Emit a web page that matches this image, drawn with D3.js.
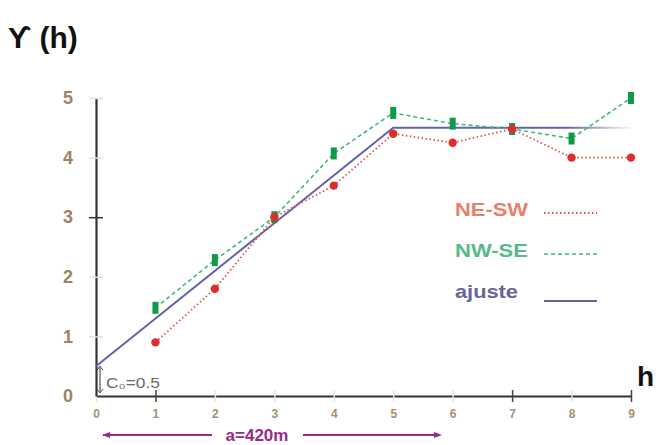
<!DOCTYPE html>
<html>
<head>
<meta charset="utf-8">
<script src="https://cdn.jsdelivr.net/npm/d3@7"></script>
<style>
  body { margin: 0; background: #fff; }
  text { font-family: "Liberation Sans", Arial, sans-serif; }
</style>
</head>
<body>
<div id="chart"></div>
<script>
// lags (h) and experimental semivariogram values
const lags = [1, 2, 3, 4, 5, 6, 7, 8, 9];
const neSw = [0.9, 1.8, 3.0, 3.53, 4.4, 4.25, 4.48, 4.0, 4.0];
const nwSe = [1.48, 2.28, 3.0, 4.07, 4.75, 4.57, 4.48, 4.32, 5.0];
// fitted model
const fitH = [0, 5, 9];
const fitG = [0.5, 4.5, 4.5];
const xTicks = [0, 1, 2, 3, 4, 5, 6, 7, 8, 9];
const yTicks = [0, 1, 2, 3, 4, 5];
const legendLabels = ["NE-SW", "NW-SE", "ajuste"];

const width = 656, height = 445;
const svg = d3.select("#chart").append("svg")
  .attr("width", width).attr("height", height);

const x = d3.scaleLinear().domain([0, 9]).range([96, 631]);
const y = d3.scaleLinear().domain([0, 5]).range([396, 98]);

// gradient for fading fit line
const defs = svg.append("defs");
const grad = defs.append("linearGradient")
  .attr("id", "fade").attr("gradientUnits", "userSpaceOnUse")
  .attr("x1", x(0)).attr("x2", x(9)).attr("y1", 0).attr("y2", 0);
grad.append("stop").attr("offset", "0.88").attr("stop-color", "#6262a8").attr("stop-opacity", 1);
grad.append("stop").attr("offset", "1").attr("stop-color", "#6262a8").attr("stop-opacity", 0.05);

// axes
const xAxis = svg.append("g")
  .attr("transform", `translate(0,${y(0)})`)
  .call(d3.axisBottom(x).tickValues(xTicks).tickSize(7).tickSizeOuter(0).tickFormat(d3.format("d")));
xAxis.select(".domain").attr("stroke", "#333").attr("stroke-width", 2.2);
xAxis.selectAll(".tick line")
  .attr("y1", -6).attr("y2", 6)
  .attr("stroke", (d) => (d === 1 || d === 7 || d === 9) ? "#444" : "#e4e4e4")
  .attr("stroke-width", 1.5);
xAxis.selectAll(".tick text")
  .attr("y", 13).attr("fill", "#a89070")
  .style("font-size", "12px").style("font-weight", "bold");

const yAxis = svg.append("g")
  .attr("transform", `translate(${x(0)},0)`)
  .call(d3.axisLeft(y).tickValues(yTicks).tickSize(7).tickSizeOuter(0).tickFormat(d3.format("d")));
yAxis.select(".domain").attr("stroke", "#333").attr("stroke-width", 2.2);
yAxis.selectAll(".tick line")
  .attr("x1", -7).attr("x2", 7)
  .attr("stroke", (d) => d === 3 ? "#333" : (d === 0 ? "none" : "#e0e0e0"))
  .attr("stroke-width", 1.5);
yAxis.selectAll(".tick text")
  .attr("x", -28).attr("text-anchor", "middle").attr("fill", "#9c8460")
  .style("font-size", "18px").style("font-weight", "bold");
svg.selectAll(".domain").attr("fill", "none");

// lines
const line = d3.line().x((d) => x(d[0])).y((d) => y(d[1]));

svg.append("path")
  .datum(d3.zip(fitH, fitG))
  .attr("d", line)
  .attr("fill", "none")
  .attr("stroke", "url(#fade)")
  .attr("stroke-width", 2);

svg.append("path")
  .datum(d3.zip(lags, nwSe))
  .attr("d", line)
  .attr("fill", "none")
  .attr("stroke", "#3fb87a")
  .attr("stroke-width", 1.6)
  .attr("stroke-dasharray", "4,3");

svg.append("path")
  .datum(d3.zip(lags, neSw))
  .attr("d", line)
  .attr("fill", "none")
  .attr("stroke", "#e85050")
  .attr("stroke-width", 1.8)
  .attr("stroke-dasharray", "1.5,2.5");

// markers
svg.append("g").selectAll("rect")
  .data(d3.zip(lags, nwSe)).enter()
  .append("rect")
  .attr("x", (d) => x(d[0]) - 3)
  .attr("y", (d) => y(d[1]) - 6)
  .attr("width", 6).attr("height", 12)
  .attr("fill", "#0f9a48");

svg.append("g").selectAll("circle")
  .data(d3.zip(lags, neSw)).enter()
  .append("circle")
  .attr("cx", (d) => x(d[0]))
  .attr("cy", (d) => y(d[1]))
  .attr("r", 4.2)
  .attr("fill", "#e02c2c");

// legend
const legColors = ["#e8806a", "#58b98a", "#6a6498"];
const legLine = [
  { stroke: "#e85050", dash: "1.5,2.5", w: 1.8, dy: -3 },
  { stroke: "#3fb87a", dash: "4,3", w: 1.6, dy: -3 },
  { stroke: "#6262a8", dash: null, w: 2, dy: 3 }
];
const legend = svg.append("g").selectAll("g")
  .data(legendLabels).enter()
  .append("g")
  .attr("transform", (d, i) => `translate(455,${216 + i * 41})`);
legend.append("text")
  .text((d) => d)
  .attr("fill", (d, i) => legColors[i])
  .attr("textLength", (d, i) => i === 2 ? 63 : 73)
  .attr("lengthAdjust", "spacingAndGlyphs")
  .style("font-size", "19px").style("font-weight", "bold");
legend.append("line")
  .attr("x1", 89).attr("x2", 142)
  .attr("y1", (d, i) => legLine[i].dy).attr("y2", (d, i) => legLine[i].dy)
  .attr("stroke", (d, i) => legLine[i].stroke)
  .attr("stroke-width", (d, i) => legLine[i].w)
  .attr("stroke-dasharray", (d, i) => legLine[i].dash);

// titles
svg.append("text").attr("x", 8).attr("y", 48)
  .style("font-size", "30px").style("font-weight", "bold").attr("fill", "#111")
  .text("ϒ (h)");
svg.append("text").attr("x", 637).attr("y", 386)
  .style("font-size", "28px").style("font-weight", "bold").attr("fill", "#111")
  .text("h");

// nugget annotation
const nug = svg.append("g");
nug.append("line").attr("x1", 100).attr("x2", 100).attr("y1", y(0.5)).attr("y2", y(0) - 3)
  .attr("stroke", "#555").attr("stroke-width", 1.2);
nug.append("path").attr("d", `M97,${y(0.5) + 4}L100,${y(0.5)}L103,${y(0.5) + 4}`).attr("fill", "none").attr("stroke", "#555");
nug.append("path").attr("d", `M97,${y(0) - 7}L100,${y(0) - 3}L103,${y(0) - 7}`).attr("fill", "none").attr("stroke", "#555");
nug.append("text").attr("x", 106).attr("y", 388)
  .attr("fill", "#6a6a6a").style("font-size", "14px")
  .attr("textLength", 54).attr("lengthAdjust", "spacingAndGlyphs")
  .text("C₀=0.5");

// range annotation
const rng = svg.append("g").attr("stroke", "#9a2a8a").attr("fill", "#9a2a8a");
rng.append("line").attr("x1", 103).attr("x2", 212).attr("y1", 435).attr("y2", 435).attr("stroke-width", 1.8);
rng.append("line").attr("x1", 303).attr("x2", 438).attr("y1", 435).attr("y2", 435).attr("stroke-width", 1.8);
rng.append("path").attr("d", "M102,435L110,432L110,438Z").attr("stroke", "none");
rng.append("path").attr("d", "M442,435L434,432L434,438Z").attr("stroke", "none");
svg.append("text").attr("x", 257).attr("y", 441).attr("text-anchor", "middle")
  .attr("fill", "#9a2a8a").style("font-size", "17px").style("font-weight", "bold")
  .text("a=420m");
</script>
</body>
</html>
